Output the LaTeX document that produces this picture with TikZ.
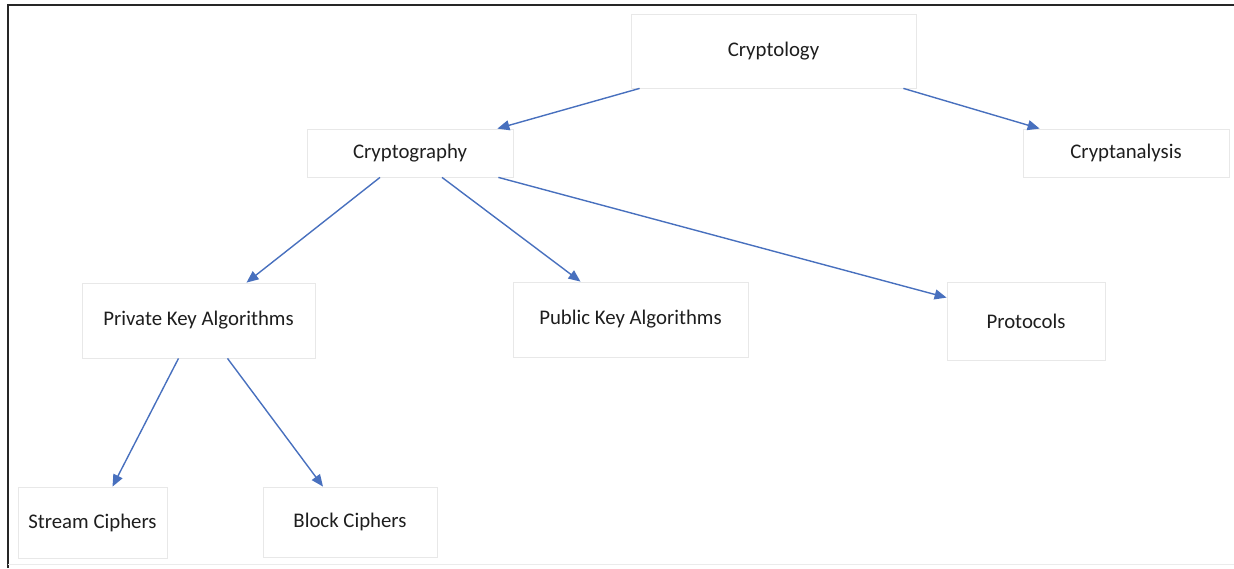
\documentclass[tikz,border=0pt]{standalone}
\usepackage{fontspec}
\setmainfont{Carlito}
\usetikzlibrary{arrows.meta}
\definecolor{arrowblue}{RGB}{72,112,190}
\definecolor{boxline}{RGB}{232,232,232}
\definecolor{textgray}{RGB}{30,30,30}
\begin{document}
\begin{tikzpicture}[x=1pt,y=-1pt,
    box/.style={draw=boxline,line width=0.8pt,fill=white,inner sep=0pt,text=textgray,font=\fontsize{20.8}{24}\selectfont},
    link/.style={draw=arrowblue,line width=1.4pt,-{Triangle[length=12pt,width=10pt]}}]
        \useasboundingbox (0,0) rectangle (1234,568);
        \draw[line width=1.6pt,black!85] (8,568) -- (8,5) -- (1234,5);
        \draw[line width=1pt,black!8] (8,564) -- (1234,564);
        \node[box,minimum width=285pt,minimum height=74pt] (cryptology) at (773.5,51) {Cryptology};
        \node[box,minimum width=206pt,minimum height=48pt] (cryptography) at (410,153) {Cryptography};
        \node[box,minimum width=206pt,minimum height=48pt] (cryptanalysis) at (1126,153) {Cryptanalysis};
        \node[box,minimum width=233pt,minimum height=75pt] (privkey) at (198.5,320.5) {Private Key Algorithms};
        \node[box,minimum width=235pt,minimum height=75pt] (pubkey) at (630.5,319.5) {Public Key Algorithms};
        \node[box,minimum width=158pt,minimum height=78pt] (protocols) at (1026,321) {Protocols};
        \node[box,minimum width=149pt,minimum height=71pt] (stream) at (92.5,522.5) {Stream Ciphers};
        \node[box,minimum width=174pt,minimum height=70pt] (block) at (350,522) {Block Ciphers};
        \draw[link] ([xshift=9pt]cryptology.south west) -- ([xshift=-16pt]cryptography.north east);
        \draw[link] ([xshift=-13pt]cryptology.south east) -- ([xshift=17pt]cryptanalysis.north west);
        \draw[link] ([xshift=-30pt]cryptography.south) -- ([xshift=48pt]privkey.north);
        \draw[link] ([xshift=32pt]cryptography.south) -- ([xshift=-50pt]pubkey.north);
        \draw[link] ([xshift=-15pt]cryptography.south east) -- ([yshift=-16pt]protocols.north west);
        \draw[link] ([xshift=-20pt]privkey.south) -- ([xshift=20pt]stream.north);
        \draw[link] ([xshift=29pt]privkey.south) -- ([xshift=-27pt]block.north);
\end{tikzpicture}
\end{document}
